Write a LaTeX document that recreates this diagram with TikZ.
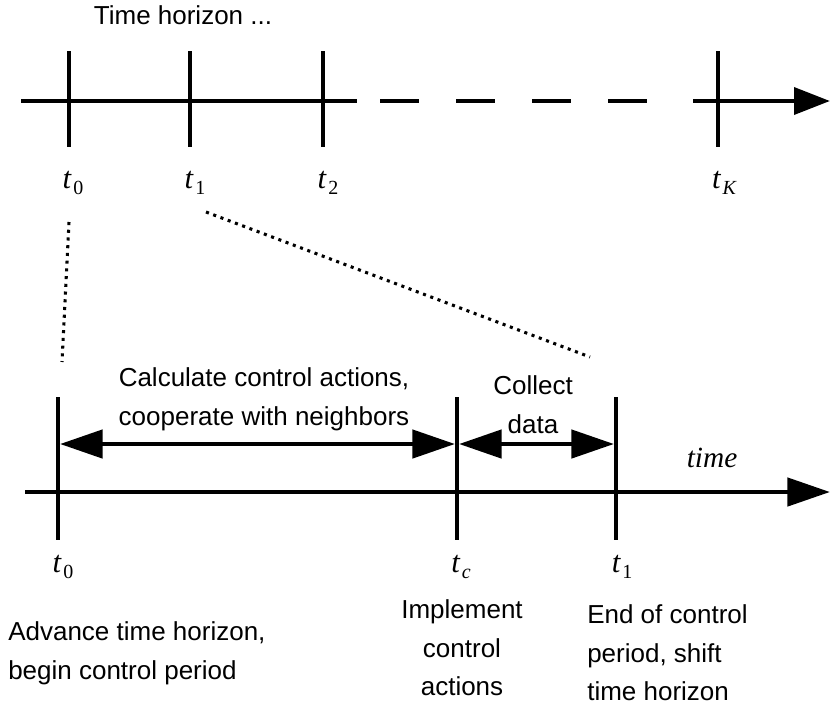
\documentclass[tikz,border=0pt]{standalone}
\usepackage{fontspec}
\setmainfont{Liberation Sans}
\newfontfamily\serif{Liberation Serif}
\usetikzlibrary{arrows.meta,positioning}
\newcommand\tsub[1]{{\serif\itshape t}\kern1.5pt\raisebox{-5pt}{\fontsize{15}{15}\selectfont\serif #1}}

\begin{document}
\begin{tikzpicture}[x=0.75pt,y=-0.75pt,>={Triangle[length=32pt,width=21pt]},
  ax/.style={line width=3.5pt},
  tick/.style={line width=3pt},
  dots/.style={line width=2.3pt,dash pattern=on 2.3pt off 3.5pt},
  lbl/.style={inner sep=0pt,font=\fontsize{23}{23}\selectfont},
  txt/.style={inner sep=0pt,align=center,font=\fontsize{19.5}{29}\selectfont}]
\useasboundingbox (0,0) rectangle (830,711);
% time horizon
\node[txt] (hz) at (183,15) {Time horizon ...};
\coordinate (a0) at (21,101);
\coordinate (a1) at (357,101);
\coordinate (a2) at (380,101);
\coordinate (a3) at (649,101);
\coordinate (a4) at (693,101);
\coordinate (a5) at (830,101);
\draw[ax] (a0) -- (a1);
\draw[ax,dash pattern=on 29.25pt off 27.75pt] (a2) -- (a3);
\draw[ax,->,>={Triangle[length=27pt,width=20pt]}] (a4) -- (a5);
\foreach \x/\n in {69/0,190/1,323/2,718/K}{
  \coordinate (up\n) at (\x,51);
  \coordinate (dn\n) at (\x,147);
  \draw[tick] (up\n) -- (dn\n);
}
\node[lbl] (t0) at (73,183) {\tsub{0}};
\node[lbl] (t1) at (195,183) {\tsub{1}};
\node[lbl] (t2) at (328,183) {\tsub{2}};
\node[lbl] (tK) at (724,183) {\tsub{\itshape K}};
% zoom on the first period
\coordinate (z0) at (69,222);
\coordinate (z1) at (62,362);
\coordinate (z2) at (206,212);
\coordinate (z3) at (590,357);
\draw[dots] (z0) -- (z1);
\draw[dots] (z2) -- (z3);
% control period
\coordinate (b0) at (25,492);
\coordinate (b1) at (830,492);
\draw[ax,->] (b0) -- (b1);
\foreach \x/\n in {58/0,457/c,616/1}{
  \coordinate (hi\n) at (\x,397);
  \coordinate (lo\n) at (\x,540);
  \draw[tick] (hi\n) -- (lo\n);
}
\coordinate (p0) at (60,444);
\coordinate (p1) at (455,444);
\coordinate (p2) at (459,444);
\coordinate (p3) at (614,444);
\draw[ax,<->] (p0) -- (p1);
\draw[ax,<->] (p2) -- (p3);
\node[txt] (calc) at (264,399) {Calculate control actions,\\cooperate with neighbors};
\node[txt] (coll) at (533,405) {Collect\\data};
\node[lbl,font=\fontsize{22}{22}\selectfont\serif\itshape] (tm) at (712,458) {time};
\node[lbl] (s0) at (63,567) {\tsub{0}};
\node[lbl] (sc) at (461,567) {\tsub{\itshape c}};
\node[lbl] (s1) at (622,567) {\tsub{1}};
\node[txt,align=left,anchor=west] (adv) at (8,653) {Advance time horizon,\\begin control period};
\node[txt] (impl) at (462,648) {Implement\\control\\actions};
\node[txt,align=left,anchor=west] (end) at (587,653) {End of control\\period, shift\\time horizon};
\end{tikzpicture}
\end{document}
